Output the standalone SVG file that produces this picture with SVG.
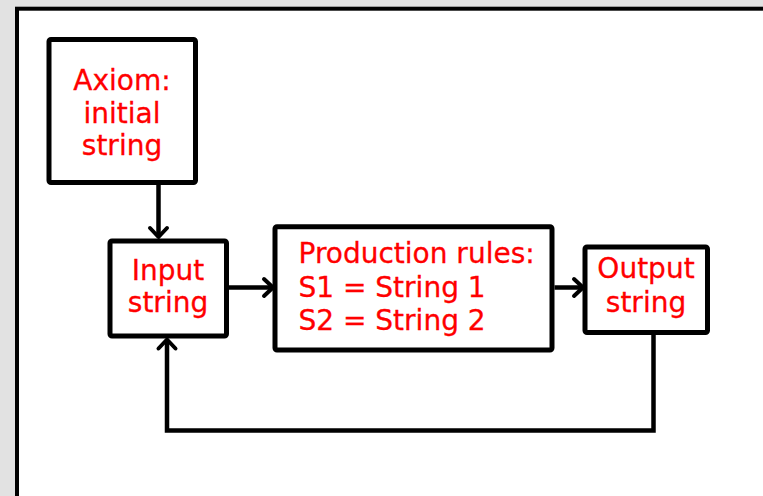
<svg xmlns="http://www.w3.org/2000/svg" width="763" height="496" viewBox="0 0 763 496">
<style>
.box{fill:#fff;stroke:#000;stroke-width:5;stroke-linejoin:round}
.t{font-family:"DejaVu Sans",Verdana,sans-serif;font-size:28px;fill:#ff0000;stroke:#ff0000;stroke-width:0.3}
.c{text-anchor:middle}
.ln{fill:none;stroke:#000;stroke-width:4.5;stroke-linejoin:miter}
.ah{fill:none;stroke:#000;stroke-width:4;stroke-linecap:round;stroke-linejoin:round}
</style>
<rect x="0" y="0" width="763" height="496" fill="#e2e2e2"/>
<rect x="17" y="8.7" width="800" height="600" fill="#fff" stroke="#000" stroke-width="4"/>
<g id="axiom">
<rect class="box" x="49" y="39.5" width="146.5" height="143" rx="2"/>
<text class="t c" x="122" y="90">Axiom:</text>
<text class="t c" x="122" y="122.5">initial</text>
<text class="t c" x="122" y="155">string</text>
</g>
<g id="input">
<rect class="box" x="110" y="241" width="116.5" height="95" rx="2"/>
<text class="t c" x="168" y="280">Input</text>
<text class="t c" x="168" y="311.7">string</text>
</g>
<g id="production">
<rect class="box" x="275" y="226.7" width="277" height="123.3" rx="2"/>
<text class="t" x="298.5" y="263.3">Production rules:</text>
<text class="t" x="298.5" y="296.7">S1 = String 1</text>
<text class="t" x="298.5" y="330">S2 = String 2</text>
</g>
<g id="output">
<rect class="box" x="585" y="247" width="122.5" height="85.5" rx="2"/>
<text class="t c" x="646" y="278.3">Output</text>
<text class="t c" x="646" y="311.7">string</text>
</g>
<g id="connectors">
<path class="ln" d="M158.5,185 V237"/>
<path class="ah" d="M150,228 L158.5,237 L167,228"/>
<path class="ln" d="M229,287.5 H272"/>
<path class="ah" d="M264,279 L273,287.5 L264,296"/>
<path class="ln" d="M554.5,287.5 H582"/>
<path class="ah" d="M574,279 L583,287.5 L574,296"/>
<path class="ln" d="M653.5,335 V430.5 H167 V340"/>
<path class="ah" d="M158.5,348.5 L167,339.5 L175.5,348.5"/>
</g>
</svg>
